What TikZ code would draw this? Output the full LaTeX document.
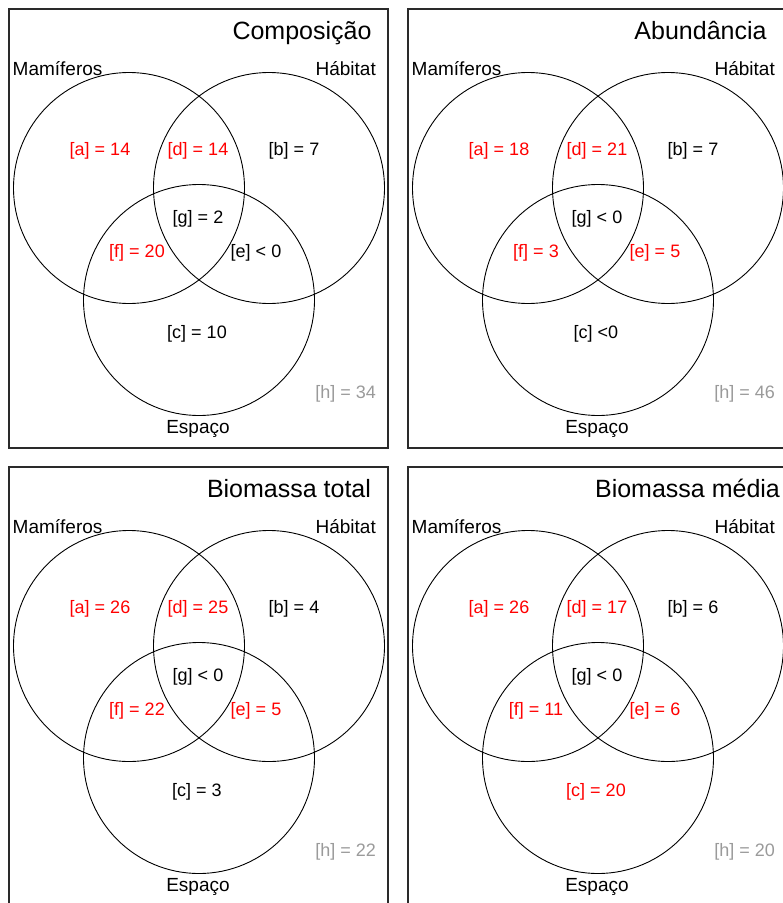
\documentclass[tikz,border=0pt]{standalone}
\usepackage{fontspec}
\setmainfont{Liberation Sans}
\definecolor{regionred}{HTML}{FF0000}
\definecolor{outsidegray}{HTML}{9A9A9A}
\definecolor{frameborder}{HTML}{2A2A2A}

\begin{document}
\begin{tikzpicture}[x=1pt, y=-1pt,
    panelbox/.style={draw=frameborder, line width=1.3pt, minimum width=379pt,
      minimum height=439pt, inner sep=0pt},
    setcircle/.style={draw, circle, line width=0.9pt, minimum size=231pt,
      inner sep=0pt},
    paneltitle/.style={font=\fontsize{25}{28}\selectfont, inner sep=0pt,
      anchor=base},
    setname/.style={font=\fontsize{19}{21}\selectfont, inner sep=0pt},
    region/.style={font=\fontsize{18}{20}\selectfont, inner sep=0pt,
      anchor=base},
    kept/.style={region, text=regionred},
    dropped/.style={region, text=black},
    outside/.style={region, anchor=base east, text=outsidegray}
  ]
  \useasboundingbox (0,0) rectangle (783,903);
  \clip (0,0) rectangle (783,903);
  \begin{scope}
    \node[panelbox] (comp-box) at (198.5,228.5) {};
    \node[setcircle] (comp-mam) at (129,188) {};
    \node[setcircle] (comp-hab) at (269,188) {};
    \node[setcircle] (comp-esp) at (199,300) {};
    \node[paneltitle] (comp-title) at (302,39) {Composição};
    \node[setname, anchor=base west] (comp-mamname) at (12.5,75) {Mamíferos};
    \node[setname, anchor=base east] (comp-habname) at (376,75) {Hábitat};
    \node[setname, anchor=base] (comp-espname) at (198,433) {Espaço};
    \node[kept] (comp-a) at (100,155) {[a] = 14};
    \node[kept] (comp-d) at (198,155) {[d] = 14};
    \node[dropped] (comp-b) at (294,155) {[b] = 7};
    \node[dropped] (comp-g) at (198,223) {[g] = 2};
    \node[kept] (comp-f) at (137,257) {[f] = 20};
    \node[dropped] (comp-e) at (256,257) {[e] < 0};
    \node[dropped] (comp-c) at (197,338) {[c] = 10};
    \node[outside] (comp-h) at (376,398) {[h] = 34};
  \end{scope}
  \begin{scope}[shift={(399,0)}]
    \node[panelbox] (abund-box) at (198.5,228.5) {};
    \node[setcircle] (abund-mam) at (129,188) {};
    \node[setcircle] (abund-hab) at (269,188) {};
    \node[setcircle] (abund-esp) at (199,300) {};
    \node[paneltitle] (abund-title) at (301.5,39) {Abundância};
    \node[setname, anchor=base west] (abund-mamname) at (12.5,75) {Mamíferos};
    \node[setname, anchor=base east] (abund-habname) at (376,75) {Hábitat};
    \node[setname, anchor=base] (abund-espname) at (198,433) {Espaço};
    \node[kept] (abund-a) at (100,155) {[a] = 18};
    \node[kept] (abund-d) at (198,155) {[d] = 21};
    \node[dropped] (abund-b) at (294,155) {[b] = 7};
    \node[dropped] (abund-g) at (198,223) {[g] < 0};
    \node[kept] (abund-f) at (137,257) {[f] = 3};
    \node[kept] (abund-e) at (256,257) {[e] = 5};
    \node[dropped] (abund-c) at (197,338) {[c] <0};
    \node[outside] (abund-h) at (376,398) {[h] = 46};
  \end{scope}
  \begin{scope}[shift={(0,458)}]
    \node[panelbox] (biotot-box) at (198.5,228.5) {};
    \node[setcircle] (biotot-mam) at (129,188) {};
    \node[setcircle] (biotot-hab) at (269,188) {};
    \node[setcircle] (biotot-esp) at (199,300) {};
    \node[paneltitle] (biotot-title) at (289,39) {Biomassa total};
    \node[setname, anchor=base west] (biotot-mamname) at (12.5,75) {Mamíferos};
    \node[setname, anchor=base east] (biotot-habname) at (376,75) {Hábitat};
    \node[setname, anchor=base] (biotot-espname) at (198,433) {Espaço};
    \node[kept] (biotot-a) at (100,155) {[a] = 26};
    \node[kept] (biotot-d) at (198,155) {[d] = 25};
    \node[dropped] (biotot-b) at (294,155) {[b] = 4};
    \node[dropped] (biotot-g) at (198,223) {[g] < 0};
    \node[kept] (biotot-f) at (137,257) {[f] = 22};
    \node[kept] (biotot-e) at (256,257) {[e] = 5};
    \node[dropped] (biotot-c) at (197,338) {[c] = 3};
    \node[outside] (biotot-h) at (376,398) {[h] = 22};
  \end{scope}
  \begin{scope}[shift={(399,458)}]
    \node[panelbox] (biomed-box) at (198.5,228.5) {};
    \node[setcircle] (biomed-mam) at (129,188) {};
    \node[setcircle] (biomed-hab) at (269,188) {};
    \node[setcircle] (biomed-esp) at (199,300) {};
    \node[paneltitle] (biomed-title) at (288.5,39) {Biomassa média};
    \node[setname, anchor=base west] (biomed-mamname) at (12.5,75) {Mamíferos};
    \node[setname, anchor=base east] (biomed-habname) at (376,75) {Hábitat};
    \node[setname, anchor=base] (biomed-espname) at (198,433) {Espaço};
    \node[kept] (biomed-a) at (100,155) {[a] = 26};
    \node[kept] (biomed-d) at (198,155) {[d] = 17};
    \node[dropped] (biomed-b) at (294,155) {[b] = 6};
    \node[dropped] (biomed-g) at (198,223) {[g] < 0};
    \node[kept] (biomed-f) at (137,257) {[f] = 11};
    \node[kept] (biomed-e) at (256,257) {[e] = 6};
    \node[kept] (biomed-c) at (197,338) {[c] = 20};
    \node[outside] (biomed-h) at (376,398) {[h] = 20};
  \end{scope}
\end{tikzpicture}
\end{document}
